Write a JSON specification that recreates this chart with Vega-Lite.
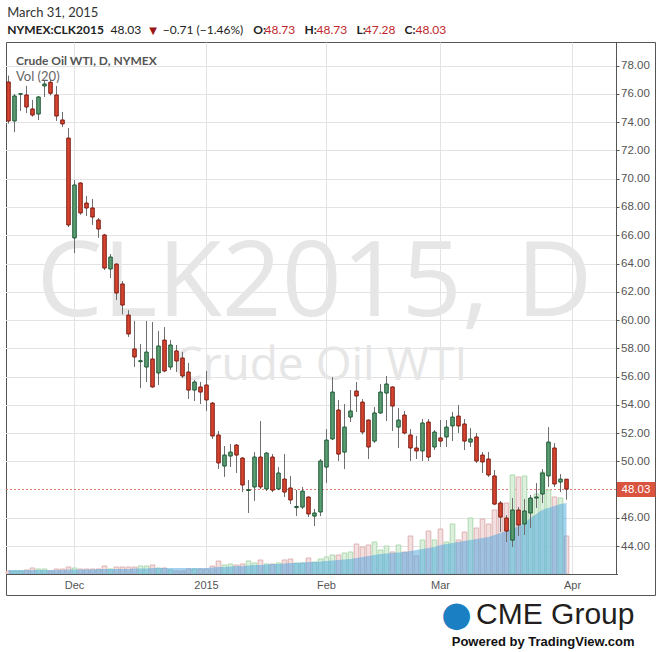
{
  "$schema": "https://vega.github.io/schema/vega-lite/v6.json",
  "width": 649,
  "height": 553,
  "autosize": {"type": "none"},
  "padding": {"left": 6, "top": 42, "right": 9, "bottom": 57},
  "background": "#ffffff",
  "config": {
    "view": {"stroke": "#555555", "strokeWidth": 1},
    "axis": {"labelFont": "Liberation Sans", "titleFont": "Lato"}
  },
  "datasets": {
    "ohlc": [
      {"date": "2014-11-13", "open": 76.85, "high": 77.3, "low": 73.9, "close": 74.09, "volume": 9, "vma": 12},
      {"date": "2014-11-14", "open": 74.09, "high": 76.0, "low": 73.3, "close": 75.86, "volume": 9, "vma": 12},
      {"date": "2014-11-17", "open": 75.98, "high": 76.05, "low": 74.8, "close": 76.02, "volume": 9, "vma": 12},
      {"date": "2014-11-18", "open": 75.93, "high": 76.57, "low": 74.65, "close": 75.08, "volume": 12, "vma": 12},
      {"date": "2014-11-19", "open": 74.94, "high": 75.58, "low": 74.4, "close": 74.51, "volume": 18, "vma": 12},
      {"date": "2014-11-20", "open": 74.58, "high": 75.85, "low": 74.16, "close": 75.79, "volume": 15, "vma": 12},
      {"date": "2014-11-21", "open": 76.57, "high": 76.99, "low": 75.79, "close": 76.71, "volume": 15, "vma": 12},
      {"date": "2014-11-24", "open": 76.83, "high": 77.0, "low": 75.9, "close": 76.05, "volume": 9, "vma": 12},
      {"date": "2014-11-25", "open": 75.93, "high": 76.57, "low": 74.09, "close": 74.44, "volume": 15, "vma": 12},
      {"date": "2014-11-26", "open": 74.16, "high": 74.73, "low": 73.66, "close": 73.88, "volume": 15, "vma": 12},
      {"date": "2014-11-28", "open": 72.88, "high": 73.59, "low": 66.58, "close": 66.73, "volume": 21, "vma": 13.5},
      {"date": "2014-12-01", "open": 65.81, "high": 69.91, "low": 64.74, "close": 69.56, "volume": 18, "vma": 13.5},
      {"date": "2014-12-02", "open": 69.7, "high": 69.75, "low": 67.45, "close": 67.58, "volume": 15, "vma": 13.5},
      {"date": "2014-12-03", "open": 68.28, "high": 68.78, "low": 67.36, "close": 67.93, "volume": 15, "vma": 13.5},
      {"date": "2014-12-04", "open": 67.93, "high": 68.57, "low": 66.73, "close": 67.29, "volume": 15, "vma": 13.5},
      {"date": "2014-12-05", "open": 67.08, "high": 67.22, "low": 65.81, "close": 66.44, "volume": 15, "vma": 15},
      {"date": "2014-12-08", "open": 66.02, "high": 66.1, "low": 63.54, "close": 63.68, "volume": 24, "vma": 15},
      {"date": "2014-12-09", "open": 63.61, "high": 64.67, "low": 62.97, "close": 64.46, "volume": 15, "vma": 15},
      {"date": "2014-12-10", "open": 63.96, "high": 64.0, "low": 61.42, "close": 61.91, "volume": 21, "vma": 15},
      {"date": "2014-12-11", "open": 62.55, "high": 62.75, "low": 60.4, "close": 61.06, "volume": 21, "vma": 15},
      {"date": "2014-12-12", "open": 60.35, "high": 60.7, "low": 58.8, "close": 59.01, "volume": 21, "vma": 15},
      {"date": "2014-12-15", "open": 57.95, "high": 59.93, "low": 56.67, "close": 57.38, "volume": 21, "vma": 16.5},
      {"date": "2014-12-16", "open": 57.05, "high": 58.3, "low": 55.19, "close": 57.12, "volume": 24, "vma": 16.5},
      {"date": "2014-12-17", "open": 56.67, "high": 59.93, "low": 55.61, "close": 57.73, "volume": 24, "vma": 16.5},
      {"date": "2014-12-18", "open": 57.24, "high": 59.86, "low": 55.2, "close": 55.26, "volume": 27, "vma": 18},
      {"date": "2014-12-19", "open": 56.25, "high": 59.22, "low": 55.4, "close": 58.16, "volume": 18, "vma": 18},
      {"date": "2014-12-22", "open": 58.58, "high": 59.5, "low": 56.3, "close": 56.39, "volume": 18, "vma": 18},
      {"date": "2014-12-23", "open": 56.67, "high": 58.58, "low": 56.46, "close": 58.23, "volume": 12, "vma": 18},
      {"date": "2014-12-24", "open": 57.81, "high": 58.23, "low": 56.32, "close": 57.1, "volume": 9, "vma": 18},
      {"date": "2014-12-26", "open": 57.31, "high": 57.73, "low": 55.89, "close": 56.04, "volume": 9, "vma": 18},
      {"date": "2014-12-29", "open": 56.32, "high": 56.96, "low": 54.41, "close": 55.04, "volume": 15, "vma": 18},
      {"date": "2014-12-30", "open": 55.04, "high": 55.75, "low": 54.27, "close": 55.61, "volume": 15, "vma": 18},
      {"date": "2014-12-31", "open": 55.26, "high": 55.61, "low": 54.05, "close": 54.9, "volume": 15, "vma": 18},
      {"date": "2015-01-02", "open": 55.4, "high": 56.39, "low": 53.56, "close": 54.34, "volume": 15, "vma": 18},
      {"date": "2015-01-05", "open": 54.12, "high": 54.2, "low": 51.58, "close": 51.79, "volume": 24, "vma": 19.5},
      {"date": "2015-01-06", "open": 51.86, "high": 52.14, "low": 49.45, "close": 49.88, "volume": 39, "vma": 21},
      {"date": "2015-01-07", "open": 49.66, "high": 51.08, "low": 48.89, "close": 50.44, "volume": 27, "vma": 21},
      {"date": "2015-01-08", "open": 50.37, "high": 51.22, "low": 49.59, "close": 50.65, "volume": 30, "vma": 22.5},
      {"date": "2015-01-09", "open": 51.15, "high": 51.22, "low": 49.17, "close": 50.44, "volume": 27, "vma": 24},
      {"date": "2015-01-12", "open": 50.23, "high": 50.3, "low": 47.82, "close": 48.32, "volume": 30, "vma": 24},
      {"date": "2015-01-13", "open": 47.93, "high": 48.67, "low": 46.34, "close": 47.99, "volume": 39, "vma": 25.5},
      {"date": "2015-01-14", "open": 48.18, "high": 50.65, "low": 47.19, "close": 50.3, "volume": 33, "vma": 27},
      {"date": "2015-01-15", "open": 50.3, "high": 52.85, "low": 48.04, "close": 48.18, "volume": 42, "vma": 27},
      {"date": "2015-01-16", "open": 48.04, "high": 50.65, "low": 47.89, "close": 50.58, "volume": 30, "vma": 28.5},
      {"date": "2015-01-20", "open": 50.3, "high": 50.51, "low": 47.82, "close": 47.96, "volume": 30, "vma": 30},
      {"date": "2015-01-21", "open": 48.04, "high": 49.59, "low": 47.95, "close": 49.17, "volume": 33, "vma": 30},
      {"date": "2015-01-22", "open": 48.74, "high": 50.51, "low": 47.47, "close": 47.82, "volume": 42, "vma": 31.5},
      {"date": "2015-01-23", "open": 48.11, "high": 48.96, "low": 46.97, "close": 47.26, "volume": 45, "vma": 33},
      {"date": "2015-01-26", "open": 46.72, "high": 47.96, "low": 46.13, "close": 46.8, "volume": 33, "vma": 33},
      {"date": "2015-01-27", "open": 46.76, "high": 48.18, "low": 46.62, "close": 47.89, "volume": 33, "vma": 34.5},
      {"date": "2015-01-28", "open": 47.47, "high": 47.5, "low": 46.05, "close": 46.27, "volume": 48, "vma": 36},
      {"date": "2015-01-29", "open": 46.12, "high": 46.62, "low": 45.42, "close": 46.34, "volume": 36, "vma": 36},
      {"date": "2015-01-30", "open": 46.41, "high": 50.16, "low": 46.12, "close": 50.02, "volume": 45, "vma": 37.5},
      {"date": "2015-02-02", "open": 49.59, "high": 52.28, "low": 48.46, "close": 51.5, "volume": 51, "vma": 39},
      {"date": "2015-02-03", "open": 51.58, "high": 55.96, "low": 51.5, "close": 54.9, "volume": 57, "vma": 40.5},
      {"date": "2015-02-04", "open": 53.63, "high": 54.34, "low": 50.02, "close": 50.51, "volume": 57, "vma": 42},
      {"date": "2015-02-05", "open": 50.65, "high": 54.05, "low": 49.45, "close": 52.42, "volume": 63, "vma": 43.5},
      {"date": "2015-02-06", "open": 53.13, "high": 55.04, "low": 52.78, "close": 53.56, "volume": 66, "vma": 45},
      {"date": "2015-02-09", "open": 54.97, "high": 55.61, "low": 53.49, "close": 54.62, "volume": 90, "vma": 48},
      {"date": "2015-02-10", "open": 54.19, "high": 54.4, "low": 51.9, "close": 52.07, "volume": 81, "vma": 51},
      {"date": "2015-02-11", "open": 52.92, "high": 52.95, "low": 50.16, "close": 51.01, "volume": 87, "vma": 54},
      {"date": "2015-02-12", "open": 51.43, "high": 53.84, "low": 51.3, "close": 53.42, "volume": 96, "vma": 57},
      {"date": "2015-02-13", "open": 53.42, "high": 55.47, "low": 53.35, "close": 54.9, "volume": 72, "vma": 60},
      {"date": "2015-02-17", "open": 54.83, "high": 56.04, "low": 52.85, "close": 55.47, "volume": 84, "vma": 61.5},
      {"date": "2015-02-18", "open": 55.26, "high": 55.3, "low": 52.14, "close": 53.91, "volume": 66, "vma": 63},
      {"date": "2015-02-19", "open": 52.42, "high": 53.77, "low": 50.94, "close": 52.92, "volume": 87, "vma": 64.5},
      {"date": "2015-02-20", "open": 53.27, "high": 53.56, "low": 51.9, "close": 52.0, "volume": 66, "vma": 66},
      {"date": "2015-02-23", "open": 51.86, "high": 52.28, "low": 50.02, "close": 50.94, "volume": 114, "vma": 69},
      {"date": "2015-02-24", "open": 50.94, "high": 51.79, "low": 50.16, "close": 50.73, "volume": 54, "vma": 72},
      {"date": "2015-02-25", "open": 50.73, "high": 52.99, "low": 50.02, "close": 52.71, "volume": 102, "vma": 75},
      {"date": "2015-02-26", "open": 52.78, "high": 52.99, "low": 50.02, "close": 50.3, "volume": 129, "vma": 78},
      {"date": "2015-02-27", "open": 51.01, "high": 52.21, "low": 50.8, "close": 52.07, "volume": 102, "vma": 81},
      {"date": "2015-03-02", "open": 51.65, "high": 52.92, "low": 51.01, "close": 51.43, "volume": 135, "vma": 87},
      {"date": "2015-03-03", "open": 51.72, "high": 52.92, "low": 51.01, "close": 52.42, "volume": 96, "vma": 90},
      {"date": "2015-03-04", "open": 52.5, "high": 53.49, "low": 51.43, "close": 53.13, "volume": 150, "vma": 93},
      {"date": "2015-03-05", "open": 53.2, "high": 53.98, "low": 52.0, "close": 52.5, "volume": 102, "vma": 96},
      {"date": "2015-03-06", "open": 52.64, "high": 52.99, "low": 50.8, "close": 51.43, "volume": 126, "vma": 99},
      {"date": "2015-03-09", "open": 51.36, "high": 52.35, "low": 51.01, "close": 51.58, "volume": 168, "vma": 102},
      {"date": "2015-03-10", "open": 51.72, "high": 52.0, "low": 49.88, "close": 50.02, "volume": 138, "vma": 105},
      {"date": "2015-03-11", "open": 50.44, "high": 50.65, "low": 49.17, "close": 49.95, "volume": 165, "vma": 108},
      {"date": "2015-03-12", "open": 50.16, "high": 50.65, "low": 48.89, "close": 49.03, "volume": 150, "vma": 111},
      {"date": "2015-03-13", "open": 48.96, "high": 49.38, "low": 46.9, "close": 46.97, "volume": 192, "vma": 117},
      {"date": "2015-03-16", "open": 47.04, "high": 47.19, "low": 44.99, "close": 46.05, "volume": 213, "vma": 123},
      {"date": "2015-03-17", "open": 45.98, "high": 46.19, "low": 44.28, "close": 45.06, "volume": 213, "vma": 129},
      {"date": "2015-03-18", "open": 44.42, "high": 47.4, "low": 43.93, "close": 46.55, "volume": 297, "vma": 135},
      {"date": "2015-03-19", "open": 46.55, "high": 46.76, "low": 44.71, "close": 45.49, "volume": 291, "vma": 144},
      {"date": "2015-03-20", "open": 45.56, "high": 47.33, "low": 44.78, "close": 46.48, "volume": 294, "vma": 153},
      {"date": "2015-03-23", "open": 46.34, "high": 47.61, "low": 45.27, "close": 47.4, "volume": 222, "vma": 168},
      {"date": "2015-03-24", "open": 47.4, "high": 48.46, "low": 46.69, "close": 47.47, "volume": 240, "vma": 180},
      {"date": "2015-03-25", "open": 47.68, "high": 49.45, "low": 47.04, "close": 49.17, "volume": 306, "vma": 192},
      {"date": "2015-03-26", "open": 48.96, "high": 52.42, "low": 48.18, "close": 51.36, "volume": 252, "vma": 198},
      {"date": "2015-03-27", "open": 50.94, "high": 51.29, "low": 48.18, "close": 48.39, "volume": 231, "vma": 204},
      {"date": "2015-03-30", "open": 48.53, "high": 49.1, "low": 47.82, "close": 48.74, "volume": 228, "vma": 210},
      {"date": "2015-03-31", "open": 48.73, "high": 48.73, "low": 47.28, "close": 48.03, "volume": 114, "vma": 213}
    ]
  },
  "data": {"name": "ohlc"},
  "encoding": {
    "x": {
      "field": "date",
      "type": "ordinal",
      "scale": {
        "type": "band",
        "paddingInner": 0,
        "paddingOuter": 0,
        "range": [-0.5, 611.5],
        "domain": ["2014-11-13","2014-11-14","2014-11-17","2014-11-18","2014-11-19","2014-11-20","2014-11-21","2014-11-24","2014-11-25","2014-11-26","2014-11-28","2014-12-01","2014-12-02","2014-12-03","2014-12-04","2014-12-05","2014-12-08","2014-12-09","2014-12-10","2014-12-11","2014-12-12","2014-12-15","2014-12-16","2014-12-17","2014-12-18","2014-12-19","2014-12-22","2014-12-23","2014-12-24","2014-12-26","2014-12-29","2014-12-30","2014-12-31","2015-01-02","2015-01-05","2015-01-06","2015-01-07","2015-01-08","2015-01-09","2015-01-12","2015-01-13","2015-01-14","2015-01-15","2015-01-16","2015-01-20","2015-01-21","2015-01-22","2015-01-23","2015-01-26","2015-01-27","2015-01-28","2015-01-29","2015-01-30","2015-02-02","2015-02-03","2015-02-04","2015-02-05","2015-02-06","2015-02-09","2015-02-10","2015-02-11","2015-02-12","2015-02-13","2015-02-17","2015-02-18","2015-02-19","2015-02-20","2015-02-23","2015-02-24","2015-02-25","2015-02-26","2015-02-27","2015-03-02","2015-03-03","2015-03-04","2015-03-05","2015-03-06","2015-03-09","2015-03-10","2015-03-11","2015-03-12","2015-03-13","2015-03-16","2015-03-17","2015-03-18","2015-03-19","2015-03-20","2015-03-23","2015-03-24","2015-03-25","2015-03-26","2015-03-27","2015-03-30","2015-03-31","2015-04-01","2015-04-02","2015-04-06","2015-04-07","2015-04-08","2015-04-09","2015-04-10","2015-04-13"]
      },
      "axis": {
        "orient": "top",
        "values": ["2014-12-01", "2015-01-02", "2015-02-02", "2015-03-02", "2015-04-01"],
        "labelExpr": "datum.value == '2014-12-01' ? 'Dec' : datum.value == '2015-01-02' ? '2015' : datum.value == '2015-02-02' ? 'Feb' : datum.value == '2015-03-02' ? 'Mar' : 'Apr'",
        "bandPosition": 0.5,
        "grid": true,
        "gridColor": "#e3e3e3",
        "domain": false,
        "ticks": false,
        "tickSize": 0,
        "labelPadding": -546,
        "labelBaseline": "alphabetic",
        "labelAlign": "center",
        "labelAngle": 0,
        "labelFont": "Liberation Sans",
        "labelFontSize": 11,
        "labelColor": "#555555",
        "labelOverlap": false,
        "labelFlush": false,
        "zindex": 0,
        "title": "March 31, 2015",
        "titleX": 0.7,
        "titleY": -25.3,
        "titleAngle": 0,
        "titleAlign": "left",
        "titleBaseline": "alphabetic",
        "titleFont": "Lato",
        "titleFontSize": 13,
        "titleFontWeight": "normal",
        "titleColor": "#333333"
      }
    }
  },
  "layer": [
    {
      "data": {"values": [{}]},
      "mark": {"type": "text", "text": "CLK2015, D", "font": "Open Sans", "fontSize": 105, "color": "#e6e6e6", "align": "center", "baseline": "alphabetic"},
      "encoding": {
        "x": {"datum": "2015-01-29", "type": "ordinal"},
        "y": {"datum": 60.3, "type": "quantitative", "scale": {"domain": [42.02, 79.68], "range": [532, 0], "nice": false, "zero": false},
          "axis": {"orient": "left", "values": [44,46,48.03,50,52,54,56,58,60,62,64,66,68,70,72,74,76,78], "grid": true,
            "gridColor": {"condition": {"test": "datum.value == 48.03", "value": "#e5796e"}, "value": "#e3e3e3"},
            "gridDash": {"condition": {"test": "datum.value == 48.03", "value": [2, 2]}, "value": []},
            "domain": false, "ticks": false, "labels": false, "zindex": 0,
            "title": "NYMEX:CLK2015", "titleX": 0.7, "titleY": -8.7, "titleAngle": 0, "titleAlign": "left", "titleBaseline": "alphabetic", "titleFont": "Lato", "titleFontSize": 12, "titleFontWeight": "bold", "titleColor": "#222222"}}
      }
    },
    {
      "data": {"values": [{}]},
      "mark": {"type": "text", "text": "Crude Oil WTI", "font": "Open Sans", "fontSize": 46, "color": "#e6e6e6", "align": "center", "baseline": "alphabetic"},
      "encoding": {
        "x": {"datum": "2015-01-30", "type": "ordinal"},
        "y": {"datum": 55.75, "type": "quantitative", "scale": {"domain": [42.02, 79.68], "range": [532, 0], "nice": false, "zero": false},
          "axis": {"orient": "left", "domain": false, "ticks": false, "labels": false, "grid": false,
            "title": "48.03", "titleX": 104, "titleY": -8.7, "titleAngle": 0, "titleAlign": "left", "titleBaseline": "alphabetic", "titleFont": "Lato", "titleFontSize": 12, "titleFontWeight": "normal", "titleColor": "#222222"}}
      }
    },
    {
      "mark": {"type": "bar", "size": 4.6, "strokeWidth": 1},
      "encoding": {
        "y": {"field": "volume", "type": "quantitative", "scale": {"domain": [0, 1596], "range": [532, 0], "nice": false, "zero": true},
          "axis": {"orient": "left", "values": [0], "grid": true, "gridColor": "#555555", "domain": false, "ticks": false, "labels": false, "zindex": 1,
            "title": "▼", "titleX": 142.7, "titleY": -8.7, "titleAngle": 0, "titleAlign": "left", "titleBaseline": "alphabetic", "titleFont": "DejaVu Sans", "titleFontSize": 10, "titleFontWeight": "normal", "titleColor": "#9b1515"}},
        "fill": {"condition": {"test": "datum.close >= datum.open", "value": "#ddf0dd"}, "value": "#f3dfdf"},
        "stroke": {"condition": {"test": "datum.close >= datum.open", "value": "#acd8ae"}, "value": "#deb2b2"}
      }
    },
    {
      "mark": {"type": "area", "color": "#4aa3e0", "opacity": 0.5, "interpolate": "monotone"},
      "encoding": {
        "y": {"field": "vma", "type": "quantitative", "scale": {"domain": [0, 1596], "range": [532, 0], "nice": false, "zero": true},
          "axis": {"orient": "left", "domain": false, "ticks": false, "labels": false, "grid": false,
            "title": "−0.71 (−1.46%)", "titleX": 156.3, "titleY": -8.7, "titleAngle": 0, "titleAlign": "left", "titleBaseline": "alphabetic", "titleFont": "Lato", "titleFontSize": 12, "titleFontWeight": "normal", "titleColor": "#222222"}}
      }
    },
    {
      "mark": {"type": "rule", "color": "#6e6e6e", "strokeWidth": 1},
      "encoding": {
        "y": {"field": "low", "type": "quantitative", "scale": {"domain": [42.02, 79.68], "range": [532, 0], "nice": false, "zero": false},
          "axis": {"orient": "right", "offset": -39, "values": [44,46,48.03,50,52,54,56,58,60,62,64,66,68,70,72,74,76,78], "format": ".2f",
            "grid": false, "domain": true, "domainColor": "#555555", "ticks": true,
            "tickSize": {"condition": {"test": "datum.value == 48.03", "value": 39}, "value": 3},
            "tickWidth": {"condition": {"test": "datum.value == 48.03", "value": 15}, "value": 1},
            "tickColor": {"condition": {"test": "datum.value == 48.03", "value": "#d9533f"}, "value": "#555555"},
            "labelColor": {"condition": {"test": "datum.value == 48.03", "value": "#ffffff"}, "value": "#555555"},
            "labelPadding": {"condition": {"test": "datum.value == 48.03", "value": -34}, "value": 1.5},
            "labelFont": "Liberation Sans", "labelFontSize": 11.5, "labelAlign": "left", "labelBaseline": "middle", "labelOverlap": false, "labelFlush": false, "zindex": 1,
            "title": "Powered by TradingView.com", "titleX": 18, "titleY": 603, "titleAngle": 0, "titleAlign": "right", "titleBaseline": "alphabetic", "titleFont": "Liberation Sans", "titleFontSize": 13, "titleFontWeight": "bold", "titleColor": "#111111"}},
        "y2": {"field": "high"}
      }
    },
    {
      "mark": {"type": "bar", "size": 3.5, "strokeWidth": 1},
      "encoding": {
        "y": {"field": "open", "type": "quantitative", "scale": {"domain": [42.02, 79.68], "range": [532, 0], "nice": false, "zero": false},
          "axis": {"orient": "left", "domain": false, "ticks": false, "labels": false, "grid": false,
            "title": "CME Group", "titleX": 628, "titleY": 581, "titleAngle": 0, "titleAlign": "right", "titleBaseline": "alphabetic", "titleFont": "Liberation Sans", "titleFontSize": 30, "titleFontWeight": "normal", "titleColor": "#231f20"}},
        "y2": {"field": "close"},
        "fill": {"condition": {"test": "datum.close >= datum.open", "value": "#5b9e73"}, "value": "#d9442f"},
        "stroke": {"condition": {"test": "datum.close >= datum.open", "value": "#1d5733"}, "value": "#7b1b12"}
      }
    },
    {
      "data": {"values": [{}]},
      "mark": {"type": "text", "text": "Crude Oil WTI, D, NYMEX", "font": "Lato", "fontSize": 12, "fontWeight": "bold", "color": "#555555", "align": "left", "baseline": "alphabetic", "dx": 1.5},
      "encoding": {
        "x": {"datum": "2014-11-14", "type": "ordinal"},
        "y": {"datum": 78.03, "type": "quantitative", "scale": {"domain": [42.02, 79.68], "range": [532, 0], "nice": false, "zero": false},
          "axis": {"orient": "left", "domain": false, "ticks": false, "labels": false, "grid": false,
            "title": "●", "titleX": 450, "titleY": 572, "titleAngle": 0, "titleAlign": "center", "titleBaseline": "middle", "titleFont": "DejaVu Sans", "titleFontSize": 35, "titleFontWeight": "normal", "titleColor": "#1b7fc3"}}
      }
    },
    {
      "data": {"values": [{}]},
      "mark": {"type": "text", "text": "Vol (20)", "font": "Lato", "fontSize": 13, "color": "#666666", "align": "left", "baseline": "alphabetic", "dx": 1.5},
      "encoding": {
        "x": {"datum": "2014-11-14", "type": "ordinal"},
        "y": {"datum": 76.94, "type": "quantitative", "scale": {"domain": [42.02, 79.68], "range": [532, 0], "nice": false, "zero": false},
          "axis": {"orient": "left", "domain": false, "ticks": false, "labels": false, "grid": false,
            "title": "O:", "titleX": 246.7, "titleY": -8.7, "titleAngle": 0, "titleAlign": "left", "titleBaseline": "alphabetic", "titleFont": "Lato", "titleFontSize": 12, "titleFontWeight": "bold", "titleColor": "#222222"}}
      }
    },
    {
      "data": {"values": [{}]},
      "mark": {"type": "text", "text": ""},
      "encoding": {
        "x": {"datum": "2014-11-13", "type": "ordinal"},
        "y": {"datum": 0, "type": "quantitative", "axis": {"orient": "left", "domain": false, "ticks": false, "labels": false, "grid": false,
          "title": "48.73", "titleX": 258, "titleY": -8.7, "titleAngle": 0, "titleAlign": "left", "titleBaseline": "alphabetic", "titleFont": "Lato", "titleFontSize": 12, "titleFontWeight": "normal", "titleColor": "#c0282d"}}
      }
    },
    {
      "data": {"values": [{}]},
      "mark": {"type": "text", "text": ""},
      "encoding": {
        "x": {"datum": "2014-11-13", "type": "ordinal"},
        "y": {"datum": 0, "type": "quantitative", "axis": {"orient": "left", "domain": false, "ticks": false, "labels": false, "grid": false,
          "title": "H:", "titleX": 298, "titleY": -8.7, "titleAngle": 0, "titleAlign": "left", "titleBaseline": "alphabetic", "titleFont": "Lato", "titleFontSize": 12, "titleFontWeight": "bold", "titleColor": "#222222"}}
      }
    },
    {
      "data": {"values": [{}]},
      "mark": {"type": "text", "text": ""},
      "encoding": {
        "x": {"datum": "2014-11-13", "type": "ordinal"},
        "y": {"datum": 0, "type": "quantitative", "axis": {"orient": "left", "domain": false, "ticks": false, "labels": false, "grid": false,
          "title": "48.73", "titleX": 310, "titleY": -8.7, "titleAngle": 0, "titleAlign": "left", "titleBaseline": "alphabetic", "titleFont": "Lato", "titleFontSize": 12, "titleFontWeight": "normal", "titleColor": "#c0282d"}}
      }
    },
    {
      "data": {"values": [{}]},
      "mark": {"type": "text", "text": ""},
      "encoding": {
        "x": {"datum": "2014-11-13", "type": "ordinal"},
        "y": {"datum": 0, "type": "quantitative", "axis": {"orient": "left", "domain": false, "ticks": false, "labels": false, "grid": false,
          "title": "L:", "titleX": 350, "titleY": -8.7, "titleAngle": 0, "titleAlign": "left", "titleBaseline": "alphabetic", "titleFont": "Lato", "titleFontSize": 12, "titleFontWeight": "bold", "titleColor": "#222222"}}
      }
    },
    {
      "data": {"values": [{}]},
      "mark": {"type": "text", "text": ""},
      "encoding": {
        "x": {"datum": "2014-11-13", "type": "ordinal"},
        "y": {"datum": 0, "type": "quantitative", "axis": {"orient": "left", "domain": false, "ticks": false, "labels": false, "grid": false,
          "title": "47.28", "titleX": 358.3, "titleY": -8.7, "titleAngle": 0, "titleAlign": "left", "titleBaseline": "alphabetic", "titleFont": "Lato", "titleFontSize": 12, "titleFontWeight": "normal", "titleColor": "#c0282d"}}
      }
    },
    {
      "data": {"values": [{}]},
      "mark": {"type": "text", "text": ""},
      "encoding": {
        "x": {"datum": "2014-11-13", "type": "ordinal"},
        "y": {"datum": 0, "type": "quantitative", "axis": {"orient": "left", "domain": false, "ticks": false, "labels": false, "grid": false,
          "title": "C:", "titleX": 398, "titleY": -8.7, "titleAngle": 0, "titleAlign": "left", "titleBaseline": "alphabetic", "titleFont": "Lato", "titleFontSize": 12, "titleFontWeight": "bold", "titleColor": "#222222"}}
      }
    },
    {
      "data": {"values": [{}]},
      "mark": {"type": "text", "text": ""},
      "encoding": {
        "x": {"datum": "2014-11-13", "type": "ordinal"},
        "y": {"datum": 0, "type": "quantitative", "axis": {"orient": "left", "domain": false, "ticks": false, "labels": false, "grid": false,
          "title": "48.03", "titleX": 409, "titleY": -8.7, "titleAngle": 0, "titleAlign": "left", "titleBaseline": "alphabetic", "titleFont": "Lato", "titleFontSize": 12, "titleFontWeight": "normal", "titleColor": "#c0282d"}}
      }
    }
  ],
  "resolve": {"scale": {"y": "independent"}}
}
